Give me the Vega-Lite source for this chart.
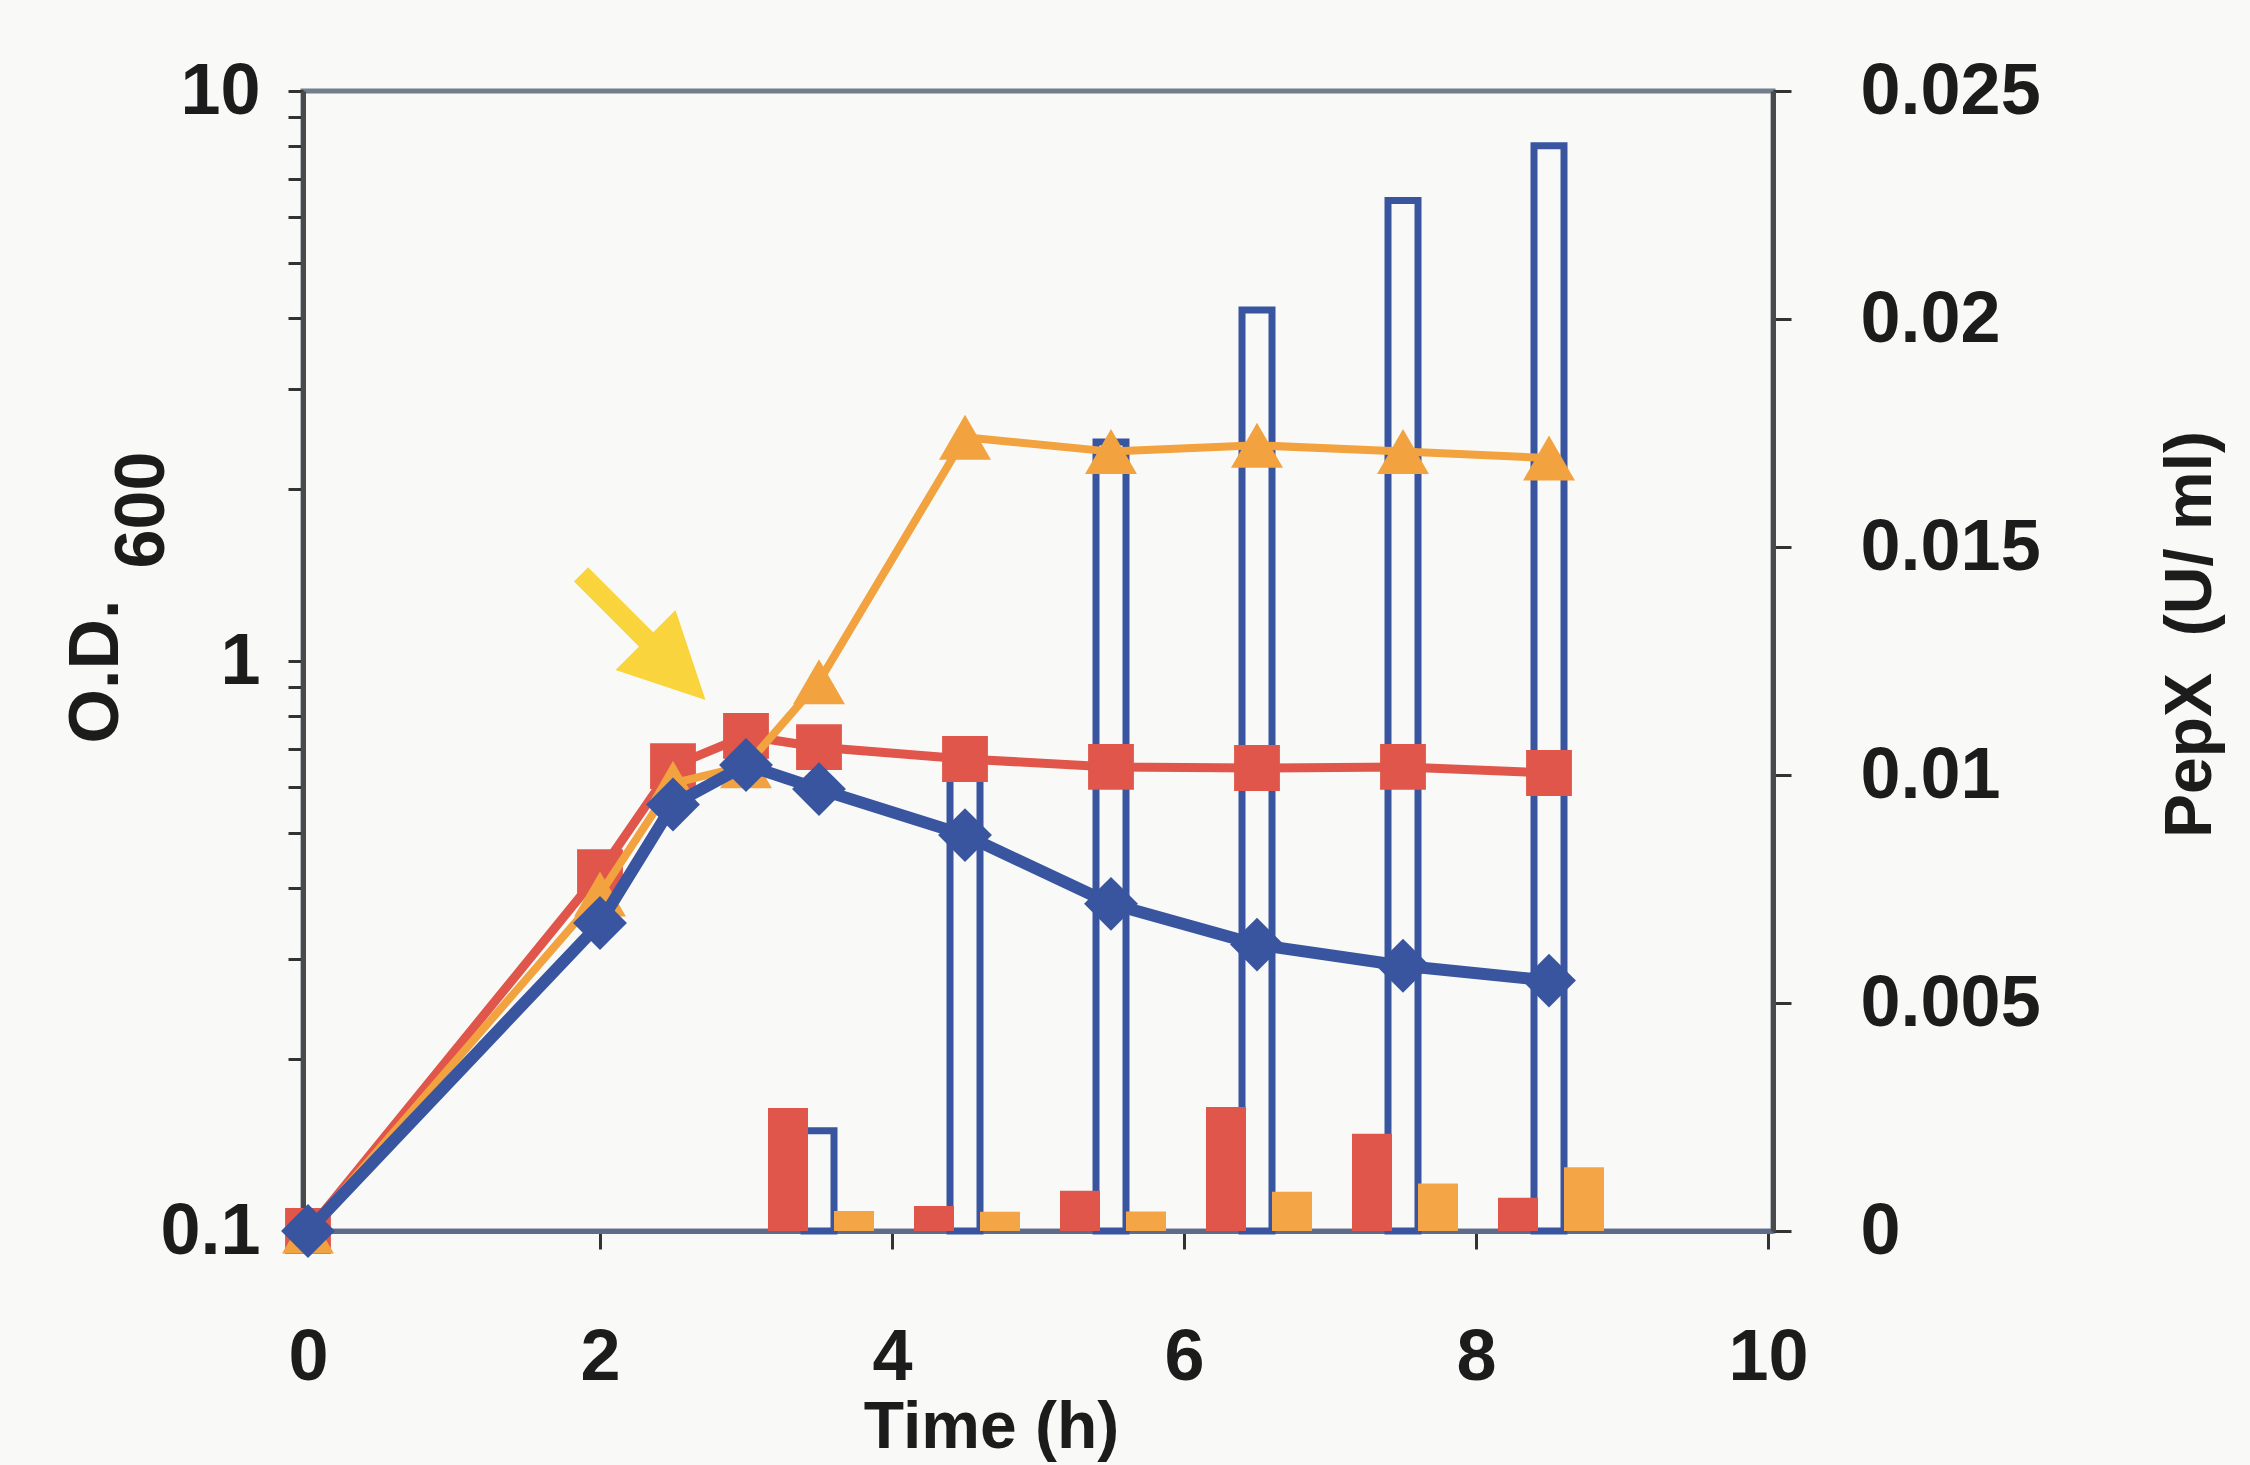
{
  "$schema": "https://vega.github.io/schema/vega-lite/v6.json",
  "width": 1470,
  "height": 1140,
  "autosize": {"type": "none"},
  "padding": {"left": 303, "top": 91, "right": 477, "bottom": 234},
  "background": "#f9faf8",
  "config": {
    "view": {"stroke": "#737d8c", "strokeWidth": 5},
    "axis": {
      "labelFont": "Liberation Sans", "labelFontWeight": "bold", "labelFontSize": 72, "labelColor": "#1c1c1c",
      "titleFont": "Liberation Sans", "titleFontWeight": "bold", "titleColor": "#1c1c1c",
      "grid": false, "tickColor": "#333333", "tickWidth": 3, "domainWidth": 5,
      "labelOverlap": false, "labelFlush": false, "labelLimit": 500, "titleLimit": 1000
    }
  },
  "datasets": {
    "od": [
      {"s": "red", "t": 0, "od": 0.1}, {"s": "red", "t": 2, "od": 0.426}, {"s": "red", "t": 2.5, "od": 0.654},
      {"s": "red", "t": 3, "od": 0.739}, {"s": "red", "t": 3.5, "od": 0.706}, {"s": "red", "t": 4.5, "od": 0.673},
      {"s": "red", "t": 5.5, "od": 0.652}, {"s": "red", "t": 6.5, "od": 0.649}, {"s": "red", "t": 7.5, "od": 0.652},
      {"s": "red", "t": 8.5, "od": 0.636},
      {"s": "orange", "t": 0, "od": 0.1}, {"s": "orange", "t": 2, "od": 0.39}, {"s": "orange", "t": 2.5, "od": 0.61},
      {"s": "orange", "t": 3, "od": 0.655}, {"s": "orange", "t": 3.5, "od": 0.92}, {"s": "orange", "t": 4.5, "od": 2.47},
      {"s": "orange", "t": 5.5, "od": 2.33}, {"s": "orange", "t": 6.5, "od": 2.39}, {"s": "orange", "t": 7.5, "od": 2.33},
      {"s": "orange", "t": 8.5, "od": 2.27},
      {"s": "blue", "t": 0, "od": 0.1}, {"s": "blue", "t": 2, "od": 0.347}, {"s": "blue", "t": 2.5, "od": 0.56},
      {"s": "blue", "t": 3, "od": 0.657}, {"s": "blue", "t": 3.5, "od": 0.596}, {"s": "blue", "t": 4.5, "od": 0.495},
      {"s": "blue", "t": 5.5, "od": 0.375}, {"s": "blue", "t": 6.5, "od": 0.318}, {"s": "blue", "t": 7.5, "od": 0.292},
      {"s": "blue", "t": 8.5, "od": 0.275}
    ],
    "pepx": [
      {"s": "blue", "t": 3.5, "v": 0.0022}, {"s": "blue", "t": 4.5, "v": 0.0101}, {"s": "blue", "t": 5.5, "v": 0.0173},
      {"s": "blue", "t": 6.5, "v": 0.0202}, {"s": "blue", "t": 7.5, "v": 0.0226}, {"s": "blue", "t": 8.5, "v": 0.0238},
      {"s": "red", "t": 3.5, "v": 0.0027}, {"s": "red", "t": 4.5, "v": 0.00055}, {"s": "red", "t": 5.5, "v": 0.00088},
      {"s": "red", "t": 6.5, "v": 0.00272}, {"s": "red", "t": 7.5, "v": 0.00213}, {"s": "red", "t": 8.5, "v": 0.00073},
      {"s": "orange", "t": 3.5, "v": 0.00044}, {"s": "orange", "t": 4.5, "v": 0.00042}, {"s": "orange", "t": 5.5, "v": 0.00043},
      {"s": "orange", "t": 6.5, "v": 0.00086}, {"s": "orange", "t": 7.5, "v": 0.00104}, {"s": "orange", "t": 8.5, "v": 0.0014}
    ],
    "shaft": [{"t": 1.87, "od": 1.419, "t2": 2.38, "od2": 1.05}],
    "head": [{"t": 2.517, "od": 0.964}]
  },
  "encoding": {
    "x": {
      "field": "t", "type": "quantitative",
      "scale": {"domain": [0, 10], "nice": false, "zero": false},
      "axis": {
        "values": [0, 2, 4, 6, 8, 10], "format": "d",
        "title": "Time (h)", "titleFontSize": 66, "titleX": 688, "titleY": 216,
        "titleAlign": "center", "titleBaseline": "alphabetic",
        "labelDx": 20, "labelPadding": 130, "labelBaseline": "alphabetic",
        "tickSize": 18, "domainColor": "#5e6b8c"
      }
    }
  },
  "layer": [
    {
      "encoding": {
        "y": {
          "field": "v", "type": "quantitative",
          "scale": {"domain": [0, 0.025], "nice": false},
          "axis": {
            "orient": "right", "values": [0, 0.005, 0.01, 0.015, 0.02, 0.025], "format": "~g",
            "tickSize": 18, "labelPadding": 69, "domainColor": "#4a4a4a",
            "title": "PepX\u00a0 (U/ ml)", "titleFontSize": 66, "titleAngle": 270,
            "titleAlign": "center", "titleBaseline": "alphabetic", "titleX": 437, "titleY": 543
          }
        }
      },
      "layer": [
        {
          "data": {"name": "pepx"},
          "transform": [{"filter": "datum.s == 'blue'"}],
          "mark": {"type": "bar", "orient": "vertical", "width": 30, "filled": false, "color": "#3a55a0", "strokeWidth": 7}
        },
        {
          "data": {"name": "pepx"},
          "transform": [{"filter": "datum.s == 'red'"}],
          "mark": {"type": "bar", "orient": "vertical", "width": 40, "xOffset": -31, "color": "#e0564a"}
        },
        {
          "data": {"name": "pepx"},
          "transform": [{"filter": "datum.s == 'orange'"}],
          "mark": {"type": "bar", "orient": "vertical", "width": 40, "xOffset": 35, "color": "#f4a545"}
        }
      ]
    },
    {
      "encoding": {
        "y": {
          "field": "od", "type": "quantitative",
          "scale": {"type": "log", "domain": [0.1, 10], "nice": false},
          "axis": {
            "orient": "left",
            "values": [0.1, 0.2, 0.3, 0.4, 0.5, 0.6, 0.7, 0.8, 0.9, 1, 2, 3, 4, 5, 6, 7, 8, 9, 10],
            "labelExpr": "datum.value == 0.1 ? '0.1' : datum.value == 1 ? '1' : datum.value == 10 ? '10' : ''",
            "tickSize": 15, "labelPadding": 28, "domainColor": "#4a4a4a",
            "title": ["O.D.", "\u200b\u00a0\u00a0\u00a0\u00a0\u00a0\u00a0\u00a0\u00a0\u00a0600"],
            "titleFontSize": 70, "titleAngle": 270, "titleAlign": "left", "titleBaseline": "alphabetic",
            "titleX": -186, "titleY": 652, "titleLineHeight": 46
          }
        }
      },
      "layer": [
        {
          "data": {"name": "shaft"},
          "mark": {"type": "rule", "color": "#f9d43c", "strokeWidth": 20, "strokeCap": "butt"},
          "encoding": {"x2": {"field": "t2"}, "y2": {"field": "od2"}}
        },
        {
          "data": {"name": "head"},
          "mark": {"type": "point", "shape": "M-1,1L0,-1L1,1Z", "angle": 135, "size": 7200, "filled": true, "color": "#f9d43c", "opacity": 1}
        },
        {
          "data": {"name": "od"},
          "transform": [{"filter": "datum.s == 'red'"}],
          "mark": {"type": "line", "color": "#e0564a", "strokeWidth": 9}
        },
        {
          "data": {"name": "od"},
          "transform": [{"filter": "datum.s == 'red'"}],
          "mark": {"type": "point", "shape": "square", "filled": true, "size": 2100, "color": "#e0564a", "opacity": 1}
        },
        {
          "data": {"name": "od"},
          "transform": [{"filter": "datum.s == 'orange'"}],
          "mark": {"type": "line", "color": "#f2a23e", "strokeWidth": 8}
        },
        {
          "data": {"name": "od"},
          "transform": [{"filter": "datum.s == 'orange'"}],
          "mark": {"type": "point", "shape": "triangle-up", "filled": true, "size": 2700, "color": "#f2a23e", "opacity": 1}
        },
        {
          "data": {"name": "od"},
          "transform": [{"filter": "datum.s == 'blue'"}],
          "mark": {"type": "line", "color": "#3a55a0", "strokeWidth": 12}
        },
        {
          "data": {"name": "od"},
          "transform": [{"filter": "datum.s == 'blue'"}],
          "mark": {"type": "point", "shape": "diamond", "filled": true, "size": 2900, "color": "#3a55a0", "opacity": 1}
        }
      ]
    }
  ],
  "resolve": {"scale": {"y": "independent"}, "axis": {"y": "independent"}}
}
